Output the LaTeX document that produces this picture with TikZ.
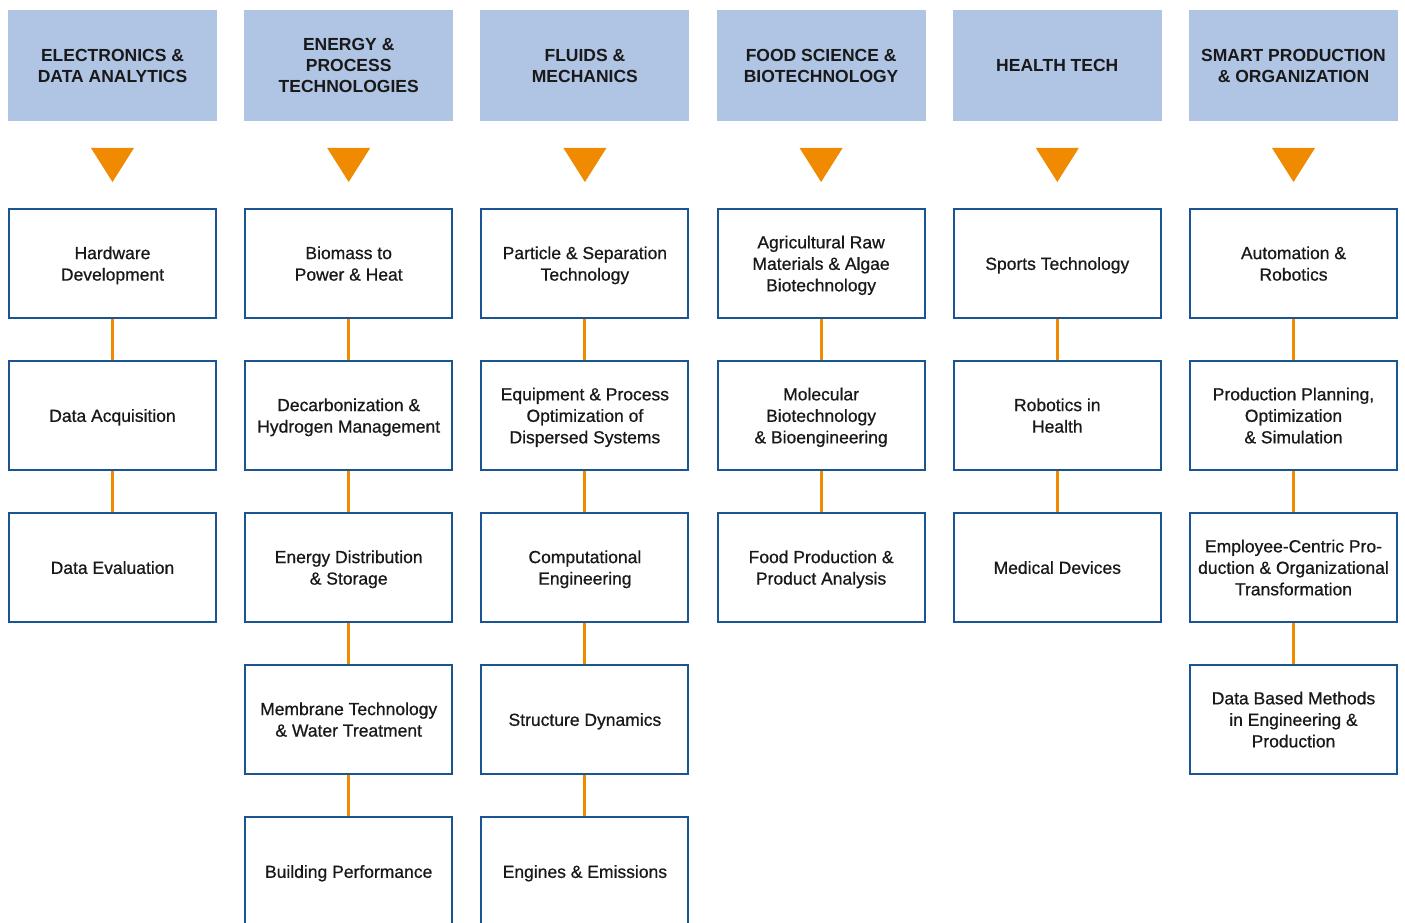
\documentclass[tikz,border=0pt]{standalone}
\usepackage{fontspec}
\setmainfont{Liberation Sans}
\newfontfamily\medfont{Liberation Sans}[BoldFont={Liberation Sans},BoldFeatures={FakeBold=0.7}]
\usepackage{tikz}

\definecolor{headblue}{RGB}{176,196,228}
\definecolor{boxblue}{RGB}{26,84,146}
\definecolor{linkorange}{RGB}{240,138,0}
\definecolor{txt}{RGB}{25,25,25}

\begin{document}
\begin{tikzpicture}[x=1pt,y=-1pt,
		head/.style={fill=headblue, minimum width=209pt, minimum height=111pt, inner sep=0pt, align=center, text=txt, text depth=0pt, font=\fontsize{17.5}{21}\selectfont\bfseries},
		topic/.style={draw=boxblue, line width=2pt, fill=white, minimum width=207pt, minimum height=109pt, inner sep=0pt, align=center, text=txt, text depth=0pt, font=\fontsize{17.5}{21.5}\selectfont\medfont\bfseries},
		link/.style={draw=linkorange, line width=3pt}]
		\useasboundingbox (0,0) rectangle (1405,923);
		
		% headers
		\node[head] (h1) at (112.5,65.5) {ELECTRONICS \&\\DATA ANALYTICS};
		\node[head] (h2) at (348.7,65.5) {ENERGY \&\\PROCESS\\TECHNOLOGIES};
		\node[head] (h3) at (584.9,65.5) {FLUIDS \&\\MECHANICS};
		\node[head] (h4) at (821.1,65.5) {FOOD SCIENCE \&\\BIOTECHNOLOGY};
		\node[head] (h5) at (1057.3,65.5) {HEALTH TECH};
		\node[head] (h6) at (1293.5,65.5) {SMART PRODUCTION\\\& ORGANIZATION};
		
		% triangles
		\foreach \c in {112.5,348.7,584.9,821.1,1057.3,1293.5}
		\fill[linkorange] (\c-21.5,148) -- (\c+21.5,148) -- (\c,182) -- cycle;
		
		% column 1
		\node[topic] (a1) at (112.5,263.5) {Hardware\\Development};
		\node[topic] (a2) at (112.5,415.5) {Data Acquisition};
		\node[topic] (a3) at (112.5,567.5) {Data Evaluation};
		
		% column 2
		\node[topic] (b1) at (348.7,263.5) {Biomass to\\Power \& Heat};
		\node[topic] (b2) at (348.7,415.5) {Decarbonization \&\\Hydrogen Management};
		\node[topic] (b3) at (348.7,567.5) {Energy Distribution\\\& Storage};
		\node[topic] (b4) at (348.7,719.5) {Membrane Technology\\\& Water Treatment};
		\node[topic] (b5) at (348.7,871.5) {Building Performance};
		
		% column 3
		\node[topic] (c1) at (584.9,263.5) {Particle \& Separation\\Technology};
		\node[topic] (c2) at (584.9,415.5) {Equipment \& Process\\Optimization of\\Dispersed Systems};
		\node[topic] (c3) at (584.9,567.5) {Computational\\Engineering};
		\node[topic] (c4) at (584.9,719.5) {Structure Dynamics};
		\node[topic] (c5) at (584.9,871.5) {Engines \& Emissions};
		
		% column 4
		\node[topic] (d1) at (821.1,263.5) {Agricultural Raw\\Materials \& Algae\\Biotechnology};
		\node[topic] (d2) at (821.1,415.5) {Molecular\\Biotechnology\\\& Bioengineering};
		\node[topic] (d3) at (821.1,567.5) {Food Production \&\\Product Analysis};
		
		% column 5
		\node[topic] (e1) at (1057.3,263.5) {Sports Technology};
		\node[topic] (e2) at (1057.3,415.5) {Robotics in\\Health};
		\node[topic] (e3) at (1057.3,567.5) {Medical Devices};
		
		% column 6
		\node[topic] (f1) at (1293.5,263.5) {Automation \&\\Robotics};
		\node[topic] (f2) at (1293.5,415.5) {Production Planning,\\Optimization\\\& Simulation};
		\node[topic] (f3) at (1293.5,567.5) {Employee-Centric Pro-\\duction \& Organizational\\Transformation};
		\node[topic] (f4) at (1293.5,719.5) {Data Based Methods\\in Engineering \&\\Production};
		
		% connectors
		\draw[link] (a1) -- (a2);
		\draw[link] (a2) -- (a3);
		\draw[link] (b1) -- (b2);
		\draw[link] (b2) -- (b3);
		\draw[link] (b3) -- (b4);
		\draw[link] (b4) -- (b5);
		\draw[link] (c1) -- (c2);
		\draw[link] (c2) -- (c3);
		\draw[link] (c3) -- (c4);
		\draw[link] (c4) -- (c5);
		\draw[link] (d1) -- (d2);
		\draw[link] (d2) -- (d3);
		\draw[link] (e1) -- (e2);
		\draw[link] (e2) -- (e3);
		\draw[link] (f1) -- (f2);
		\draw[link] (f2) -- (f3);
		\draw[link] (f3) -- (f4);
		
\end{tikzpicture}
\end{document}
